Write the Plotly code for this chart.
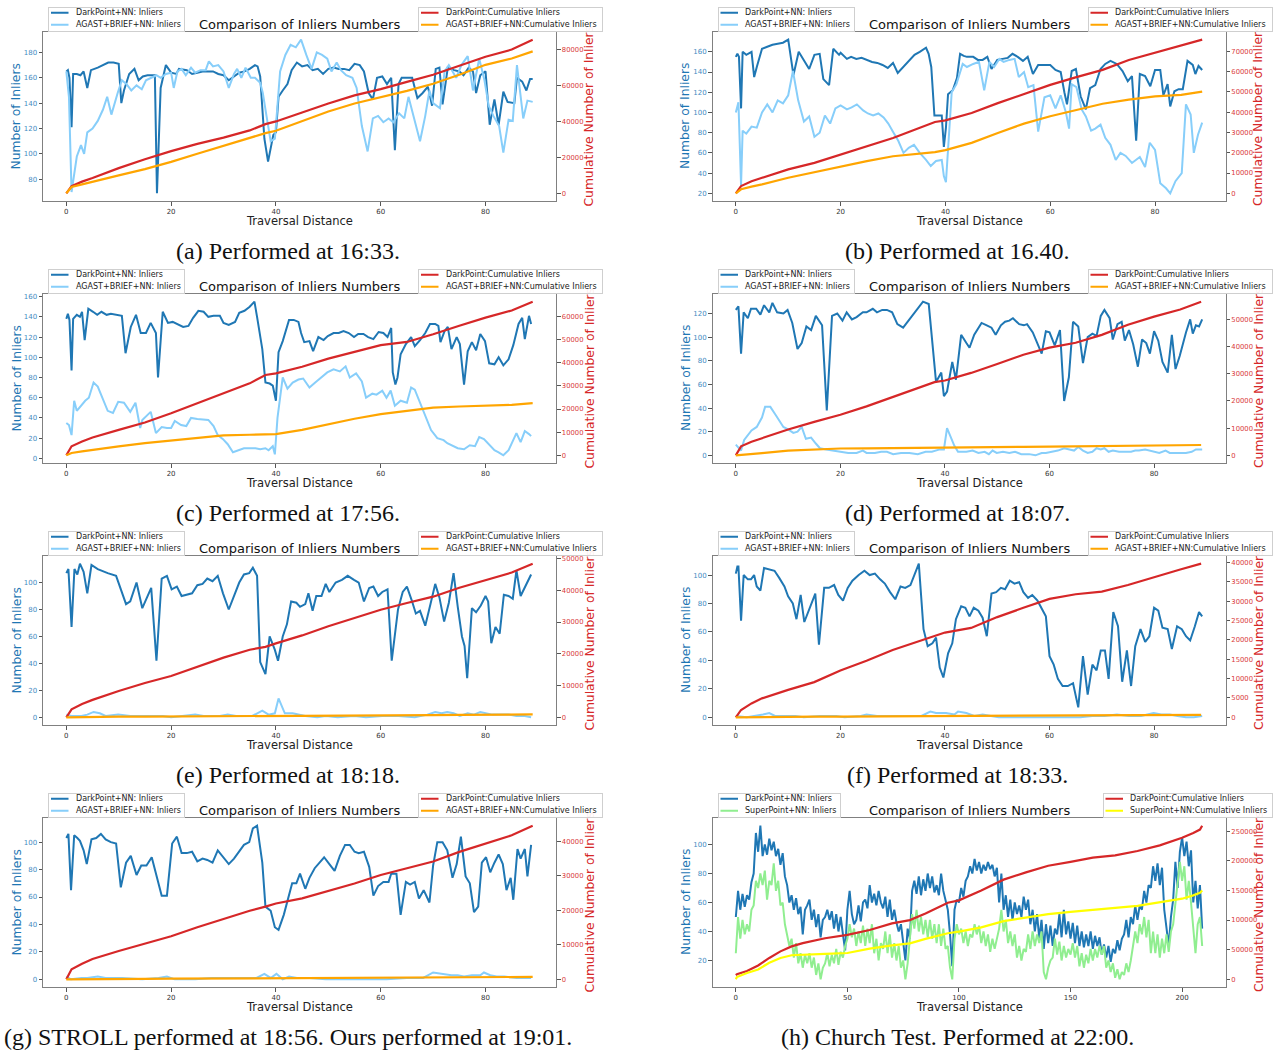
import plotly.graph_objects as go

W, H = 1276, 1055

# Series colours (matplotlib-style names)
DARK = "#1f77b4"      # tab:blue
LIGHT = "#87cefa"     # lightskyblue
RED = "#d62728"       # tab:red
ORANGE = "#ffa500"    # orange
GREEN = "#90ee90"     # lightgreen
YELLOW = "#ffff00"    # yellow

# ---------------------------------------------------------------------------
# Cumulative inliers, sampled along the traversal (runs a-g)
CUM_X = [0, 1, 3, 5, 10, 15, 20, 25, 30, 35, 38, 40, 45, 50, 55, 60, 65, 70, 75, 80, 85, 89]

A_RED = [0, 4000, 6500, 8500, 14000, 19000, 23500, 27500, 31000, 35000, 38500, 40000,
         45000, 50000, 54500, 58000, 62000, 66000, 71000, 76000, 80000, 85500]
A_ORANGE = [0, 3500, 5000, 6500, 10000, 13500, 17500, 22000, 26500, 31000, 33500, 34800,
            40000, 45500, 50000, 53500, 57000, 61000, 66000, 71500, 75000, 79000]
B_RED = [0, 3600, 6000, 7700, 11800, 15000, 19100, 23200, 27300, 32200, 35200, 36000,
         39600, 44500, 49100, 53500, 57300, 60900, 65800, 69400, 73000, 75800]
B_ORANGE = [0, 2000, 3300, 4400, 7700, 10500, 13400, 15900, 18300, 19600, 20300, 21300,
            24900, 29800, 34400, 38000, 41200, 44200, 46200, 47800, 48600, 50200]
C_RED = [0, 3900, 6000, 7700, 11000, 14200, 18200, 22500, 26800, 31100, 34700, 35400,
         38300, 41800, 44700, 47600, 49000, 52300, 56000, 59500, 62600, 66400]
C_ORANGE = [0, 1000, 1700, 2400, 3900, 5300, 6400, 7700, 8600, 8900, 9000, 9200,
            11000, 13500, 15800, 17800, 19300, 20600, 21100, 21500, 21800, 22600]
D_RED = [0, 3300, 5000, 6300, 9500, 12300, 14900, 18000, 21500, 25000, 26900, 27500,
         30300, 33600, 37000, 39600, 41400, 44300, 48000, 51000, 53600, 56500]
D_ORANGE = [0, 200, 500, 800, 1700, 2200, 2500, 2550, 2600, 2650, 2700, 2800,
            2900, 3000, 3100, 3200, 3300, 3400, 3500, 3600, 3700, 3800]
E_RED = [0, 2500, 4200, 5500, 8300, 10800, 13000, 15800, 18800, 21300, 22200, 23300,
         25800, 28700, 31300, 33900, 36000, 38000, 40800, 43300, 45600, 48400]
E_ORANGE = [0, 30, 80, 120, 200, 230, 250, 300, 330, 370, 390, 400,
            450, 500, 550, 600, 650, 700, 750, 800, 850, 900]
F_RED = [0, 1900, 3600, 4900, 7100, 9100, 12100, 14600, 17400, 19700, 20900, 21900,
         23100, 25900, 28300, 30600, 31800, 32500, 34200, 36300, 38200, 39700]
F_ORANGE = [0, 20, 60, 90, 130, 170, 200, 240, 270, 310, 330, 350,
            380, 400, 430, 450, 490, 520, 560, 600, 630, 650]
G_RED = [0, 2900, 4500, 5900, 8200, 10300, 12500, 15100, 17600, 19900, 21100, 22000,
         23500, 25600, 27800, 30300, 32200, 34200, 37000, 39500, 41800, 44600]
G_ORANGE = [0, 20, 50, 80, 120, 150, 180, 220, 250, 280, 300, 320,
            350, 380, 420, 450, 500, 550, 600, 640, 680, 700]

# ---------------------------------------------------------------------------
# Per-frame inliers as (traversal distance, inliers) points
A_DARK = [(0, 165), (0.3, 166), (0.6, 160), (1, 121), (1.3, 163), (2, 163), (2.7, 162), (3.3, 165),
          (4, 152), (4.7, 166), (6, 168), (7, 170), (8, 172), (9, 172), (10, 171), (10.5, 140),
          (11, 150), (12, 163), (13, 167), (13.8, 158), (14.6, 161), (15.5, 162), (16.3, 162),
          (16.9, 162), (17.3, 69), (18, 152), (19, 170), (20, 164), (21, 163), (21.5, 167),
          (23, 166), (24, 163), (25, 164), (26, 165), (27, 165), (28, 165), (29, 163), (30, 162),
          (31, 158), (32, 161), (33, 164), (34, 165), (35, 167), (36, 170), (36.5, 169), (37, 161),
          (37.8, 112), (38.5, 94), (39, 104), (39.5, 115), (40, 117), (40.5, 145), (41.3, 150),
          (42.2, 155), (43, 166), (44, 172), (45, 169), (46, 170), (47, 166), (48, 167), (49, 163),
          (50, 167), (51, 168), (52, 167), (53, 167), (54, 166), (55, 171), (56, 170), (56.8, 165),
          (57.7, 148), (58.5, 143), (59.3, 160), (60.3, 161), (61.2, 155), (62, 160), (62.7, 103),
          (63.4, 155), (64, 160), (65, 160), (66, 160), (67, 144), (68, 148), (69, 153), (69.8, 138),
          (70.5, 167), (71.2, 168), (71.8, 139), (72.8, 168), (74, 166), (75, 165), (75.8, 162),
          (76.8, 168), (77.6, 165), (78.2, 148), (79, 162), (80, 165), (80.8, 123), (81.7, 143),
          (82.5, 123), (83.4, 149), (84.2, 141), (85.5, 140), (86, 160), (87, 157), (87.8, 150),
          (88.5, 159), (89, 159)]
A_LIGHT = [(0, 165), (0.5, 145), (1, 70), (1.5, 85), (2, 98), (2.8, 107), (3.4, 100), (4, 117),
           (5, 120), (6, 126), (7, 135), (7.8, 145), (8.6, 131), (9.8, 148), (10.6, 158), (11.5, 155),
           (12.4, 150), (13.4, 154), (14.4, 151), (15.2, 158), (16.2, 160), (17.2, 162), (18, 160),
           (19, 163), (20, 164), (20.5, 152), (21.2, 165), (22, 167), (22.8, 162), (23.8, 168),
           (24.6, 164), (25.6, 166), (26.6, 166), (27.2, 173), (28, 169), (29, 170), (30, 165),
           (31, 152), (32, 163), (32.6, 167), (33.4, 160), (34.2, 168), (35.2, 160), (36, 160),
           (37, 156), (37.5, 148), (38.2, 130), (39, 110), (39.8, 112), (40.8, 165), (41.8, 178),
           (42.8, 186), (43.8, 184), (44.8, 190), (45.8, 178), (46.8, 167), (47.8, 180), (48.8, 178),
           (49.8, 175), (50.6, 165), (51.6, 172), (52.4, 166), (53.4, 162), (54.6, 160), (55.4, 152),
           (56.4, 122), (57.5, 102), (58.5, 128), (59.5, 130), (60.5, 125), (61.5, 128), (62.4, 125),
           (63.5, 132), (64.5, 128), (65.3, 145), (66.3, 128), (67.5, 110), (68.5, 130), (69.3, 150),
           (70, 140), (71.3, 136), (72.2, 165), (73, 170), (74.4, 160), (75.4, 170), (76.6, 177),
           (77.6, 150), (78.8, 175), (79.8, 158), (80.6, 138), (81.5, 130), (82.6, 122), (83.4, 101),
           (84.4, 127), (85.2, 126), (86, 170), (87.2, 128), (88, 142), (89, 141)]

B_DARK = [(0, 155), (0.3, 158), (0.6, 155), (1, 104), (1.3, 160), (2, 157), (3, 160), (3.5, 135),
          (4, 145), (5, 163), (6, 165), (7, 167), (8, 168), (9, 169), (10, 172), (11, 137), (12, 160),
          (13, 152), (14, 143), (15, 157), (16, 158), (16.7, 133), (17.3, 130), (17.8, 127),
          (18.6, 163), (19.7, 157), (20, 159), (21.2, 153), (22, 155), (23, 153), (24, 154),
          (25, 152), (26, 150), (27, 149), (28, 147), (29, 144), (30, 149), (30.9, 139), (32, 145),
          (33.2, 152), (34.1, 157), (35.1, 160), (36.3, 164), (36.8, 158), (37.3, 145), (37.9, 97),
          (38.5, 97), (39.3, 97), (39.7, 66), (40.1, 85), (40.5, 118), (41.4, 122), (42.2, 134),
          (42.8, 158), (43.5, 156), (44.1, 155), (45.3, 155), (46.2, 152), (47.1, 152), (48, 155),
          (48.8, 143), (49.9, 152), (50.9, 153), (51.9, 154), (52.8, 158), (53.8, 155), (54.8, 151),
          (55.7, 155), (56.7, 138), (57.7, 147), (59, 147), (60, 147), (61, 142), (62, 140),
          (62.7, 120), (63.2, 108), (64.1, 141), (64.9, 143), (65.8, 116), (66.8, 103), (67.6, 124),
          (68.6, 127), (69.6, 143), (70.5, 148), (71.5, 151), (72.7, 148), (73.8, 141), (74.8, 131),
          (75.6, 136), (76.4, 72), (77.1, 138), (78.1, 136), (79.1, 126), (80, 142), (81, 142),
          (81.6, 117), (82.4, 128), (82.9, 106), (83.7, 121), (84.5, 123), (85.3, 123), (86.2, 151),
          (87.2, 147), (87.7, 138), (88.3, 146), (89, 142)]
B_LIGHT = [(0, 100), (0.5, 110), (1, 28), (1.3, 82), (2, 79), (3, 86), (4, 85), (5, 100), (6, 108),
           (7, 100), (8, 112), (9, 109), (10, 117), (10.9, 141), (11.9, 112), (13, 91), (14, 96),
           (15, 76), (16, 80), (17, 97), (18, 89), (19, 104), (20, 107), (21.2, 103), (22.1, 105),
           (23.1, 108), (24.3, 102), (25.2, 99), (26.2, 97), (27.2, 99), (28.2, 95), (29.1, 89),
           (30.1, 80), (31, 72), (32, 60), (33, 65), (34, 68), (35.1, 60), (36.3, 53), (37.2, 47),
           (38.2, 52), (39.3, 53), (39.7, 37), (40.1, 31), (41.2, 120), (42.1, 128), (43.3, 148),
           (44.1, 145), (45.3, 148), (46.4, 150), (47.4, 122), (48.4, 150), (49.3, 145), (50.3, 153),
           (51.1, 150), (52.2, 152), (53.2, 153), (54, 135), (55, 140), (55.8, 125), (56.8, 127),
           (57.7, 81), (58.9, 115), (60, 117), (61, 104), (62, 117), (63, 100), (63.6, 84),
           (64.1, 128), (65, 125), (66, 103), (66.8, 96), (67.8, 82), (68.6, 84), (69.6, 88),
           (70.5, 75), (71.5, 68), (72.5, 53), (73.4, 60), (74.4, 57), (75.6, 50), (76.4, 53),
           (77.1, 56), (78.1, 46), (79, 70), (80, 63), (81, 30), (82.1, 25), (82.9, 20), (83.9, 32),
           (85.1, 40), (85.9, 108), (86.8, 98), (87.4, 60), (88.2, 78), (89, 90)]

C_DARK = [(0, 138), (0.3, 143), (0.6, 137), (1, 87), (1.3, 138), (2, 142), (2.6, 140), (3, 145),
          (3.5, 117), (4.2, 148), (5.1, 145), (5.9, 142), (6.7, 145), (7.7, 142), (8.5, 143),
          (9.6, 142), (10.6, 141), (11.3, 104), (12.3, 130), (13.3, 142), (14.2, 124), (15.2, 124),
          (16.1, 134), (17.1, 124), (17.5, 80), (18.4, 145), (19.4, 134), (20.3, 135), (21.2, 133),
          (22.3, 130), (23.3, 131), (24.2, 139), (25.2, 146), (26.2, 145), (27.1, 140), (28.1, 141),
          (29.3, 141), (30, 134), (31, 132), (32.2, 135), (33, 144), (34, 146), (35, 150),
          (35.9, 155), (36.4, 140), (37.4, 108), (38, 75), (38.8, 74), (39.4, 72), (40, 57),
          (40.5, 105), (41.3, 116), (42.5, 137), (43.4, 137), (44.3, 135), (44.8, 124), (45.4, 115),
          (46.4, 116), (47.1, 106), (48.1, 120), (49.1, 117), (49.9, 121), (51, 124), (52, 124),
          (52.9, 126), (53.9, 124), (54.9, 120), (55.7, 123), (56.7, 123), (57.6, 120), (58.6, 118),
          (59.6, 125), (60.5, 124), (61.3, 120), (62, 129), (62.3, 85), (62.8, 73), (63.2, 80),
          (63.8, 103), (64.8, 113), (65.8, 120), (66.5, 111), (67.5, 117), (68.5, 124), (69.4, 133),
          (70.4, 133), (71, 131), (71.4, 115), (72.2, 126), (72.8, 130), (73.5, 108), (74.5, 120),
          (75.1, 113), (75.9, 73), (76.6, 106), (77.4, 115), (78.2, 107), (79, 123), (79.9, 116),
          (80.7, 94), (81.7, 93), (82.5, 100), (83.4, 92), (84.4, 98), (85.3, 112), (86.3, 133),
          (87, 139), (87.5, 118), (88.3, 141), (88.7, 133)]
C_LIGHT = [(0, 35), (0.5, 33), (1, 23), (1.5, 57), (2, 47), (3, 53), (3.6, 57), (4.3, 60), (5.2, 75),
           (6, 71), (6.9, 60), (7.9, 47), (8.9, 45), (9.9, 56), (11, 55), (12.2, 46), (13.2, 55),
           (14.1, 30), (14.5, 38), (16.1, 46), (17.1, 25), (18.2, 31), (19.2, 30), (20, 30),
           (20.7, 37), (21.9, 33), (22.9, 32), (23.8, 40), (25, 39), (26.2, 38), (27.1, 38),
           (28.1, 32), (28.9, 23), (29.9, 19), (30.8, 14), (31.8, 6), (32.8, 8), (33.9, 10),
           (35.1, 10), (36.1, 10), (37, 9), (38, 10), (38.6, 8), (39.4, 12), (39.8, 4), (40.3, 40),
           (41.3, 80), (42.2, 69), (43.2, 75), (44.3, 78), (45.2, 79), (46.4, 70), (47.5, 75),
           (48.7, 80), (49.8, 85), (51, 88), (52.2, 86), (53.3, 91), (54.1, 80), (55.3, 84),
           (56.4, 76), (57.2, 60), (58.4, 64), (59.2, 63), (60.3, 67), (61.1, 60), (61.9, 67),
           (62.7, 52), (63.8, 57), (65, 55), (65.8, 70), (66.5, 68), (67.7, 53), (68.7, 40),
           (69.6, 28), (70.8, 20), (72, 18), (72.7, 15), (73.5, 13), (74.7, 10), (75.9, 9), (77, 13),
           (78, 12), (78.8, 21), (79.7, 19), (80.9, 13), (81.7, 8), (82.5, 6), (83.4, 3), (84.4, 8),
           (85.2, 18), (85.9, 25), (86.7, 16), (87.5, 27), (88.3, 24), (88.7, 22)]

D_DARK = [(0, 123), (0.5, 126), (1, 86), (1.5, 121), (2.3, 116), (2.9, 124), (3.9, 124), (4.7, 119),
          (5.4, 127), (6.4, 121), (7, 129), (7.9, 121), (9.1, 120), (9.9, 123), (10.8, 112),
          (11.8, 90), (12.6, 95), (13.5, 109), (14.4, 106), (15.3, 118), (16.5, 110), (17.4, 38),
          (18.4, 118), (19.4, 120), (20.4, 114), (21.2, 121), (22.2, 115), (23.1, 117), (24.3, 121),
          (25, 121), (26.2, 124), (27, 121), (28, 123), (28.9, 123), (29.9, 121), (30.9, 111),
          (32, 108), (34, 120), (35.8, 130), (36.9, 128), (37.3, 109), (38.3, 62), (39.3, 70),
          (39.8, 50), (40.4, 54), (41.4, 79), (42.1, 64), (43.1, 102), (44.1, 95), (44.7, 91),
          (45.6, 102), (47, 112), (48, 110), (48.9, 108), (49.7, 102), (50.7, 110), (51.5, 113),
          (52.3, 114), (53, 116), (54.2, 111), (55.1, 110), (55.7, 111), (56.8, 104), (57.5, 97),
          (58.5, 86), (59.3, 105), (60, 104), (61, 93), (62, 106), (62.8, 46), (63.7, 66),
          (64.5, 113), (65.5, 109), (66.4, 78), (67.3, 100), (68.2, 103), (69, 101), (69.8, 118),
          (70.5, 123), (71.5, 116), (72.1, 98), (73, 111), (73.8, 113), (74.4, 97), (75.2, 106),
          (76, 94), (76.9, 75), (77.7, 98), (78.5, 95), (79.2, 86), (80, 105), (80.8, 97), (81.6, 79),
          (82.6, 70), (83.4, 102), (84.1, 73), (84.9, 84), (86.1, 104), (86.9, 115), (87.4, 103),
          (88, 110), (88.6, 109), (89.2, 115)]
D_LIGHT = [(0, 9), (0.5, 6), (1, 4), (1.6, 13), (2.3, 17), (3, 21), (4, 24), (5, 32), (5.6, 41),
           (6.6, 41), (7.5, 35), (8.3, 29), (9.1, 24), (10, 22), (11, 19), (11.8, 20), (12.6, 24),
           (13.4, 14), (14.4, 15), (15.3, 10), (16.1, 6), (17.3, 5), (18.4, 4), (20, 3), (21.5, 2),
           (23.1, 2), (24.3, 4), (25, 2), (26.6, 2), (27.8, 3), (28.9, 3), (30.1, 1), (31.6, 2),
           (33.2, 2), (34.8, 1), (36.3, 3), (37.5, 3), (39, 5), (39.8, 5), (40.4, 23), (41.8, 8),
           (42.5, 3), (44.1, 3), (45.3, 4), (46.4, 2), (47.6, 3), (48.4, 1), (49.1, 4), (49.9, 2),
           (51.1, 3), (52.3, 2), (53.4, 3), (54.6, 1), (56.1, 1), (57.3, 0), (58.5, 2), (59.3, 2),
           (60.4, 3), (61.6, 4), (62.8, 6), (63.9, 5), (64.7, 4), (65.5, 7), (66.4, 4), (67.3, 2),
           (68.2, 3), (69, 6), (69.8, 5), (70.5, 6), (71.3, 3), (72.1, 4), (73.3, 3), (74.4, 3),
           (75.6, 3), (76.4, 4), (77.1, 4), (78.3, 5), (79.1, 4), (80, 3), (81, 2), (82.2, 4), (83, 2),
           (84.5, 2), (86.1, 2), (87.2, 3), (88, 5), (89.2, 5)]

E_DARK = [(0, 107), (0.4, 110), (1, 67), (1.55, 110), (2.1, 106), (2.6, 114), (3.3, 108), (4, 92),
          (4.8, 113), (6, 110), (7.9, 107), (9.5, 105), (11.4, 84), (12.2, 86), (13.4, 100),
          (14.5, 81), (16.2, 96), (17.2, 42), (18.2, 103), (19.2, 105), (20.1, 95), (21.1, 97),
          (22, 90), (23, 91), (24, 92), (25, 98), (26, 99), (26.9, 103), (27.9, 101), (28.9, 105),
          (29.9, 92), (31, 80), (32, 90), (33, 100), (33.9, 106), (34.9, 107), (35.6, 111),
          (36.4, 105), (37, 41), (38, 32), (38.8, 60), (39.8, 50), (40.4, 42), (41.3, 60), (42.1, 69),
          (42.9, 86), (43.9, 85), (44.6, 82), (45.6, 84), (46.2, 92), (47, 79), (47.7, 90),
          (48.7, 90), (49.5, 99), (50.2, 93), (51.4, 100), (52.6, 102), (53.7, 105), (54.9, 102),
          (55.8, 100), (56.8, 86), (57.8, 96), (58.6, 97), (59.5, 90), (60.3, 93), (61.3, 95),
          (62.1, 42), (63.3, 80), (64.2, 93), (65, 97), (65.9, 87), (66.7, 77), (67.5, 79),
          (68.5, 68), (69.5, 84), (70.4, 99), (71.2, 89), (72.1, 71), (73, 85), (73.9, 107),
          (74.7, 82), (75.5, 60), (76, 53), (76.5, 29), (77.4, 81), (78.2, 78), (79.1, 83), (80, 90),
          (80.5, 86), (81.1, 55), (81.9, 67), (82.7, 62), (83.5, 91), (84.4, 90), (85.2, 88),
          (85.9, 109), (86.7, 90), (87.7, 98), (88.7, 106)]
E_LIGHT = [(0, 2), (1, 1), (2.9, 1), (4, 2), (5.2, 4), (6.4, 3), (7.5, 1), (9.9, 2), (12.2, 1),
           (15.3, 1), (18.4, 1), (20, 0), (23.1, 1), (24.6, 2), (26.2, 1), (29.3, 1), (30.8, 2),
           (32.4, 1), (35.5, 1), (37.4, 5), (38.6, 2), (39.8, 3), (40.5, 14), (41.7, 3), (43.2, 3),
           (44.4, 2), (45.6, 1), (47.9, 0), (49.5, 1), (51.8, 0), (54.9, 1), (57.2, 0), (60.3, 1),
           (63.4, 1), (66.5, 0), (68.9, 2), (70.4, 4), (71.6, 3), (72.7, 4), (73.9, 3), (75.1, 1),
           (76.6, 3), (77.8, 2), (79, 4), (80.1, 3), (81.3, 2), (82.8, 2), (84.4, 2), (85.9, 1),
           (87.5, 1), (88.7, 0)]

F_DARK = [(0, 101), (0.3, 106), (0.5, 106), (1, 68), (1.5, 100), (2.3, 97), (2.9, 97), (3.5, 100),
          (4, 92), (4.7, 89), (5.4, 105), (6.4, 104), (7.4, 103), (8.3, 98), (9.3, 92), (10, 85),
          (10.9, 80), (11.6, 69), (12.4, 86), (13.1, 67), (14.2, 77), (15.2, 87), (15.9, 51),
          (16.9, 91), (17.8, 91), (18.8, 93), (19.6, 86), (20.5, 82), (21.4, 91), (22.3, 96),
          (23.5, 100), (24.6, 103), (25.6, 100), (26.6, 101), (27.6, 97), (28.5, 94), (29.5, 88),
          (30.5, 83), (31.5, 92), (32.4, 91), (33.4, 93), (34.2, 101), (35, 108), (35.9, 62),
          (36.7, 50), (37.6, 52), (38.3, 56), (39, 35), (39.7, 28), (40.6, 45), (41.4, 52),
          (42.1, 69), (43.1, 78), (43.9, 77), (44.7, 71), (45.5, 77), (46.4, 75), (47.2, 70),
          (48, 57), (48.9, 87), (49.8, 88), (50.7, 91), (51.5, 90), (52.4, 96), (53.3, 94),
          (54.2, 95), (55, 88), (55.9, 84), (56.7, 86), (57.7, 82), (58.5, 77), (59.3, 71), (60, 43),
          (60.8, 37), (61.6, 27), (62.5, 22), (63.5, 22), (64.5, 24), (65.5, 7), (66.4, 43),
          (67.3, 16), (68.2, 37), (69, 33), (69.8, 47), (70.6, 47), (71.3, 27), (72.2, 74),
          (73.1, 64), (73.9, 25), (74.8, 47), (75.6, 22), (76.4, 50), (77.4, 62), (78.3, 53),
          (79.1, 57), (80, 77), (80.8, 75), (81.6, 63), (82.6, 62), (83.4, 48), (84.4, 64),
          (85.3, 62), (86.1, 57), (86.9, 54), (87.8, 64), (88.6, 74), (89.2, 71)]
F_LIGHT = [(0, 1), (2.1, 0), (5.2, 2), (6.4, 3), (7.5, 1), (9.9, 1), (11.4, 1), (13, 0), (16.1, 1),
           (19.2, 1), (20.8, 0), (23.9, 1), (25, 2), (27, 1), (30.1, 1), (33.2, 1), (35.5, 1),
           (37.2, 4), (38.3, 3), (40.2, 3), (41.8, 2), (42.5, 4), (44.1, 3), (45.6, 1), (47.2, 2),
           (48.8, 1), (50.3, 0), (53.4, 0), (56.5, 0), (59.6, 0), (62.8, 0), (65.9, 0), (68.2, 1),
           (70.5, 1), (72.9, 2), (75.2, 1), (77.5, 1), (79.9, 3), (81.4, 2), (83, 2), (84.5, 1),
           (86.1, 0), (87.6, 0), (89.2, 1)]

G_DARK = [(0, 103), (0.4, 106), (0.9, 65), (1.5, 105), (2.1, 103), (2.6, 101), (3.3, 94), (3.9, 84),
          (4.8, 102), (5.7, 103), (6.6, 106), (7.5, 102), (8.5, 100), (9.5, 99), (10.4, 67),
          (11.4, 85), (12.3, 90), (13.4, 76), (14.3, 83), (15.3, 83), (16.3, 89), (17.2, 76),
          (18.2, 61), (19.2, 61), (20.2, 99), (21.1, 104), (22, 92), (23, 92), (24, 93), (25, 86),
          (26, 88), (26.9, 87), (27.9, 85), (28.9, 94), (29.9, 89), (31, 84), (32, 88), (33, 93),
          (33.9, 98), (34.9, 100), (35.6, 110), (36.4, 112), (37.4, 85), (38, 53), (39, 50),
          (39.8, 38), (40.5, 36), (41.5, 47), (42.3, 59), (43.1, 70), (43.9, 70), (44.6, 77),
          (45.6, 66), (46.4, 74), (47.4, 81), (48.3, 85), (49.2, 89), (50.2, 84), (51.2, 79),
          (52.2, 90), (53.2, 98), (54.1, 98), (55, 93), (55.8, 92), (56.8, 93), (57.8, 82),
          (58.6, 61), (59.5, 68), (60.5, 71), (61.5, 71), (62, 77), (63, 77), (63.8, 47), (64.8, 71),
          (65.6, 69), (66.5, 71), (67.3, 59), (68.2, 65), (69.3, 56), (70, 83), (70.8, 100),
          (71.8, 100), (72.7, 94), (73.7, 74), (74.5, 84), (75.3, 104), (76.2, 75), (77, 70),
          (77.8, 49), (78.6, 53), (79.3, 85), (80.1, 89), (80.9, 78), (81.7, 85), (82.5, 91),
          (83.3, 84), (84, 65), (84.8, 74), (85.3, 58), (86.1, 95), (86.7, 88), (87.5, 95), (88, 75),
          (88.7, 98)]
G_LIGHT = [(0, 2), (0.9, 0), (2.9, 1), (4, 1), (6, 2), (7.5, 1), (10.6, 1), (14.5, 0), (17.6, 1),
           (19.2, 2), (20.7, 0), (24.6, 0), (27.7, 1), (30.8, 1), (33.9, 1), (36.3, 1), (37.8, 4),
           (39, 1), (40.1, 4), (41.3, 0), (42.5, 2), (44, 1), (46.4, 1), (49.5, 0), (53.3, 0),
           (57.2, 0), (61.1, 0), (65, 1), (68.1, 1), (70, 5), (72, 4), (73.5, 3), (74.7, 3),
           (75.9, 2), (77.4, 3), (79, 3), (79.7, 5), (80.9, 3), (82.1, 2), (83.6, 2), (85.9, 1),
           (88.7, 1)]

# ---------------------------------------------------------------------------
# Church test (run h): one sample per unit of traversal distance
H_DARK = [50, 68, 55, 66, 57, 65, 62, 74, 80, 108,
          95, 113, 92, 100, 93, 104, 96, 102, 92, 97,
          86, 94, 78, 72, 60, 65, 55, 63, 52, 57,
          38, 55, 58, 62, 48, 55, 43, 52, 36, 48,
          50, 55, 48, 54, 42, 52, 40, 50, 38, 27,
          55, 68, 52, 45, 48, 58, 47, 60, 62, 56,
          72, 60, 66, 58, 68, 60, 56, 64, 50, 62,
          48, 55, 46, 40, 45, 32, 20, 42, 35, 68,
          75, 66, 78, 65, 76, 68, 80, 70, 78, 67,
          72, 65, 80, 68, 62, 55, 38, 16, 55, 62,
          60, 70, 64, 75, 78, 85, 80, 90, 82, 88,
          80, 86, 82, 88, 83, 86, 78, 84, 60, 80,
          55, 65, 50, 62, 48, 60, 52, 58, 50, 64,
          55, 62, 45, 55, 40, 52, 35, 48, 28, 45,
          32, 44, 30, 42, 38, 52, 36, 55, 38, 47,
          35, 46, 32, 44, 30, 40, 29, 38, 30, 40,
          28, 37, 30, 36, 24, 31, 22, 30, 19, 28,
          25, 34, 27, 35, 38, 48, 36, 50, 45, 58,
          48, 58, 55, 68, 60, 72, 70, 85, 75, 87,
          72, 84, 55, 40, 30, 50, 62, 88, 70, 95,
          105, 92, 102, 85, 96, 60, 75, 56, 72, 42]
H_GREEN = [25, 50, 35, 48, 38, 45, 40, 55, 58, 75,
           70, 80, 72, 82, 62, 75, 72, 87, 68, 75,
           58, 60, 45, 38, 30, 35, 22, 32, 18, 25,
           15, 24, 18, 25, 15, 22, 10, 18, 7, 15,
           18, 25, 16, 24, 18, 28, 17, 26, 22, 30,
           35, 45, 36, 42, 30, 40, 32, 44, 30, 42,
           32, 45, 25, 35, 20, 32, 28, 40, 25, 38,
           22, 32, 20, 30, 15, 20, 7, 18, 35, 52,
           42, 55, 40, 50, 38, 48, 36, 48, 35, 45,
           32, 45, 30, 42, 28, 30, 15, 7, 35, 45,
           38, 42, 32, 40, 30, 38, 36, 45, 38, 44,
           32, 40, 30, 38, 26, 35, 28, 34, 42, 55,
           40, 48, 32, 40, 30, 38, 22, 30, 20, 28,
           26, 38, 28, 40, 30, 38, 32, 40, 12, 7,
           15, 20, 22, 35, 24, 33, 20, 30, 22, 28,
           24, 32, 22, 30, 16, 25, 15, 24, 18, 28,
           20, 28, 22, 30, 24, 30, 15, 20, 12, 18,
           8, 14, 7, 12, 10, 18, 12, 20, 30, 40,
           32, 45, 38, 50, 36, 48, 25, 40, 25, 38,
           22, 35, 25, 38, 26, 40, 45, 60, 70, 88,
           75, 85, 62, 75, 60, 40, 25, 45, 50, 30]
H_X = list(range(len(H_DARK)))

H_CUM_X = [0, 0.5, 5, 10, 15, 20, 25, 30, 40, 50, 60, 70, 78, 85, 95, 100, 110, 120, 130, 140,
           150, 160, 170, 180, 190, 200, 205, 208, 209]
H_RED = [7000, 8500, 13900, 23300, 36100, 47200, 55600, 61100, 69400, 75000, 83300, 94400,
         100000, 111100, 129400, 133300, 150000, 168300, 180600, 191700, 198300, 205600,
         209400, 216700, 226100, 238900, 247200, 252800, 259400]
H_YELLOW = [0, 3900, 10600, 16700, 27800, 36100, 40600, 41700, 42800, 44400, 51700, 57200,
            60600, 68300, 77800, 80600, 87800, 98300, 103900, 110000, 113900, 117800,
            120600, 123900, 130600, 136100, 141700, 146000, 150000]

# ---------------------------------------------------------------------------
# Labels
TITLE = "Comparison of Inliers Numbers"
X_TITLE = "Traversal Distance"
Y_TITLE = "Number of Inliers"
Y2_TITLE = "Cumulative Number of Inliers"
CAPTIONS = ["(a) Performed at 16:33.", "(b) Performed at 16.40.",
            "(c) Performed at 17:56.", "(d) Performed at 18:07.",
            "(e) Performed at 18:18.", "(f) Performed at 18:33.",
            "(g) STROLL performed at 18:56. Ours performed at 19:01.",
            "(h) Church Test. Performed at 22:00."]


def split(points):
    return [p[0] for p in points], [p[1] for p in points]


def agast_panel(dark, light, red, orange, dy2):
    dx_, dy_ = split(dark)
    lx_, ly_ = split(light)
    return dict(
        inl=[("DarkPoint+NN: Inliers", dx_, dy_, DARK), ("AGAST+BRIEF+NN: Inliers", lx_, ly_, LIGHT)],
        cum=[("DarkPoint:Cumulative Inliers", CUM_X, red, RED),
             ("AGAST+BRIEF+NN:Cumulative Inliers", CUM_X, orange, ORANGE)],
        dx=20, dy=20, dy2=dy2, wl=137, wr=185)


PANELS = [
    agast_panel(A_DARK, A_LIGHT, A_RED, A_ORANGE, 20000),
    agast_panel(B_DARK, B_LIGHT, B_RED, B_ORANGE, 10000),
    agast_panel(C_DARK, C_LIGHT, C_RED, C_ORANGE, 10000),
    agast_panel(D_DARK, D_LIGHT, D_RED, D_ORANGE, 10000),
    agast_panel(E_DARK, E_LIGHT, E_RED, E_ORANGE, 10000),
    agast_panel(F_DARK, F_LIGHT, F_RED, F_ORANGE, 5000),
    agast_panel(G_DARK, G_LIGHT, G_RED, G_ORANGE, 10000),
    dict(inl=[("DarkPoint+NN: Inliers", H_X, H_DARK, DARK), ("SuperPoint+NN: Inliers", H_X, H_GREEN, GREEN)],
         cum=[("DarkPoint:Cumulative Inliers", H_CUM_X, H_RED, RED),
              ("SuperPoint+NN:Cumulative Inliers", H_CUM_X, H_YELLOW, YELLOW)],
         dx=50, dy=20, dy2=50000, wl=123, wr=170),
]

FONT = "DejaVu Sans"
TICK_BLUE = "#3f8bc2"
TICK_RED = "#d9393b"
TICK_SIZE = 7


def px(x):
    return x / W


def py(y):
    return 1 - y / H


def padded(values):
    lo, hi = min(values), max(values)
    m = 0.05 * (hi - lo)
    return [lo - m, hi + m]


fig = go.Figure()
layout = {}
titles = []
legend_parts = []

for i, pnl in enumerate(PANELS):
    row, col = divmod(i, 2)
    left = 43 if col == 0 else 712.5
    right = left + 513
    top = 32 + 262 * row
    bottom = 201 + 262 * row
    xname = "x" if i == 0 else f"x{i + 1}"
    y1name = "y" if i == 0 else f"y{2 * i + 1}"
    y2name = f"y{2 * i + 2}"

    for name, xs, ys, color in pnl["inl"]:
        fig.add_trace(go.Scatter(x=xs, y=ys, mode="lines", name=name, showlegend=False,
                                 line=dict(color=color, width=2), xaxis=xname, yaxis=y1name))
    for name, xs, ys, color in pnl["cum"]:
        fig.add_trace(go.Scatter(x=xs, y=ys, mode="lines", name=name, showlegend=False,
                                 line=dict(color=color, width=2.2), xaxis=xname, yaxis=y2name))

    all_x = [v for s in pnl["inl"] + pnl["cum"] for v in s[1]]
    left_vals = [v for s in pnl["inl"] for v in s[2]]
    right_vals = [v for s in pnl["cum"] for v in s[2]]

    tick_common = dict(ticks="outside", ticklen=3.5, tickwidth=0.8, tickcolor="#555555",
                       showgrid=False, zeroline=False, tickmode="linear", tick0=0)
    layout["xaxis" if i == 0 else f"xaxis{i + 1}"] = dict(
        domain=[px(left), px(right)], anchor=y1name, range=padded(all_x), dtick=pnl["dx"],
        showline=True, mirror=True, linecolor="#808080", linewidth=1,
        tickfont=dict(family=FONT, size=TICK_SIZE, color="#333333"), **tick_common)
    layout["yaxis" if i == 0 else f"yaxis{2 * i + 1}"] = dict(
        domain=[py(bottom), py(top)], anchor=xname, range=padded(left_vals), dtick=pnl["dy"],
        showline=True, mirror=True, linecolor="#808080", linewidth=1,
        tickfont=dict(family=FONT, size=TICK_SIZE, color=TICK_BLUE), **tick_common)
    layout[f"yaxis{2 * i + 2}"] = dict(
        overlaying=y1name, side="right", anchor=xname, range=padded(right_vals),
        dtick=pnl["dy2"], tickformat="d", showline=False,
        tickfont=dict(family=FONT, size=6.8, color=TICK_RED), **tick_common)

    cx = (left + right) / 2
    cy = (top + bottom) / 2
    titles += [
        dict(text=TITLE, x=px(cx), y=py(top - 8), font=dict(family=FONT, size=13, color="#111111")),
        dict(text=X_TITLE, x=px(cx), y=py(bottom + 20), font=dict(family=FONT, size=11.5, color="#222222")),
        dict(text=Y_TITLE, x=px(left - 27), y=py(cy), textangle=-90,
             font=dict(family=FONT, size=12.3, color=DARK)),
        dict(text=Y2_TITLE, x=px(right + 33), y=py(cy), textangle=-90,
             font=dict(family=FONT, size=12.3, color=RED)),
        dict(text=CAPTIONS[i], x=px(left + 245), y=py(bottom + 50),
             font=dict(family="Liberation Serif", size=24, color="#111111")),
    ]

    # legend boxes: inliers at top-left, cumulative anchored to the right
    box_top = top - 25.5
    boxes = [(left + 5, pnl["wl"], pnl["inl"]), (left + 560 - pnl["wr"], pnl["wr"], pnl["cum"])]
    for bx, bw, series in boxes:
        legend_parts.append(dict(
            text=" ", x=px(bx), y=py(box_top), xanchor="left", yanchor="top",
            width=bw - 2, height=23, bgcolor="rgba(255,255,255,0.92)",
            bordercolor="#cfcfcf", borderwidth=1, borderpad=0, font=dict(size=8)))
        for k, s in enumerate(series):
            ry = box_top + 6.2 + 12 * k
            legend_parts.append(dict(
                text="", x=px(bx + 3), y=py(ry), showarrow=True, ax=18, ay=0,
                arrowhead=0, arrowwidth=2, arrowcolor=s[3], standoff=0, startstandoff=0,
                borderpad=0, font=dict(size=1)))
            legend_parts.append(dict(
                text=s[0], x=px(bx + 25.5), y=py(ry), xanchor="left", yanchor="middle",
                font=dict(family=FONT, size=8, color="#222222")))

annotations = []
for a in titles + legend_parts:
    base = dict(xref="paper", yref="paper", showarrow=False, xanchor="center", yanchor="middle")
    base.update(a)
    annotations.append(base)

fig.update_layout(
    template="none",
    width=W, height=H, autosize=False,
    margin=dict(l=0, r=0, t=0, b=0),
    paper_bgcolor="white", plot_bgcolor="white",
    font=dict(family=FONT),
    showlegend=False,
    annotations=annotations,
    **layout,
)

fig.write_html("out.html")
